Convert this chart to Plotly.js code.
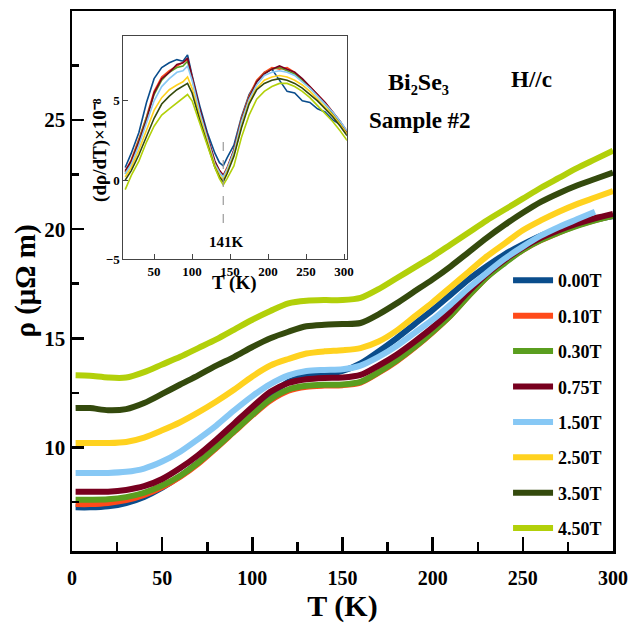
<!DOCTYPE html>
<html>
<head>
<meta charset="utf-8">
<script src="https://cdn.plot.ly/plotly-3.0.1.min.js"></script>
<style>html,body{margin:0;padding:0;background:#fff;}#chart{width:630px;height:626px;}</style>
</head>
<body>
<div id="chart"></div>
<script>
// ---------- main panel data: rho (micro-ohm m) vs T (K) ----------
const T_main = [2, 10, 20, 30, 40, 50, 60, 70, 80, 90, 100, 110, 120, 130, 140, 150, 160, 170, 180, 190, 200, 210, 220, 230, 240, 250, 260, 270, 280, 290, 300];
const fieldLabels = ['0.00T', '0.10T', '0.30T', '0.75T', '1.50T', '2.50T', '3.50T', '4.50T'];
const rho_000 = [7.25, 7.25, 7.30, 7.45, 7.73, 8.15, 8.68, 9.30, 10.00, 10.80, 11.60, 12.40, 13.00, 13.30, 13.35, 13.50, 13.85, 14.40, 15.00, 15.65, 16.30, 17.00, 17.70, 18.30, 18.85, 19.30, 19.70, 20.00, 20.25, 20.45, 20.60];
const rho_010 = [7.40, 7.40, 7.45, 7.58, 7.82, 8.18, 8.65, 9.25, 9.97, 10.72, 11.47, 12.15, 12.60, 12.78, 12.83, 12.85, 12.97, 13.42, 13.95, 14.58, 15.28, 16.05, 16.95, 17.80, 18.48, 19.05, 19.50, 19.85, 20.17, 20.42, 20.62];
const rho_030 = [7.60, 7.60, 7.62, 7.72, 7.92, 8.25, 8.70, 9.30, 10.00, 10.75, 11.50, 12.20, 12.65, 12.82, 12.87, 12.88, 13.00, 13.45, 13.98, 14.60, 15.30, 16.05, 16.95, 17.80, 18.45, 19.05, 19.50, 19.85, 20.15, 20.40, 20.62];
const rho_075 = [7.96, 7.96, 7.97, 8.05, 8.22, 8.55, 9.05, 9.65, 10.35, 11.10, 11.85, 12.55, 12.95, 13.12, 13.18, 13.20, 13.32, 13.75, 14.25, 14.85, 15.50, 16.25, 17.15, 17.95, 18.60, 19.15, 19.60, 19.95, 20.25, 20.50, 20.70];
const rho_150 = [8.83, 8.83, 8.83, 8.88, 9.03, 9.35, 9.80, 10.38, 11.00, 11.70, 12.35, 12.90, 13.30, 13.50, 13.55, 13.58, 13.75, 14.15, 14.65, 15.25, 15.85, 16.55, 17.30, 18.00, 18.65, 19.20, 19.70, 20.10, 20.45, 20.80, null];
const rho_250 = [10.20, 10.20, 10.20, 10.25, 10.45, 10.78, 11.15, 11.60, 12.10, 12.65, 13.25, 13.75, 14.05, 14.30, 14.40, 14.45, 14.55, 14.85, 15.35, 16.00, 16.65, 17.35, 18.05, 18.75, 19.35, 19.95, 20.40, 20.80, 21.15, 21.45, 21.75];
const rho_350 = [11.80, 11.80, 11.70, 11.75, 12.03, 12.45, 12.88, 13.30, 13.75, 14.15, 14.60, 15.00, 15.30, 15.55, 15.62, 15.65, 15.70, 16.10, 16.60, 17.15, 17.70, 18.30, 18.95, 19.60, 20.20, 20.75, 21.25, 21.65, 22.00, 22.30, 22.60];
const rho_450 = [13.30, 13.28, 13.20, 13.20, 13.45, 13.80, 14.15, 14.55, 14.95, 15.40, 15.85, 16.25, 16.60, 16.72, 16.75, 16.75, 16.85, 17.25, 17.75, 18.25, 18.75, 19.30, 19.85, 20.40, 20.90, 21.40, 21.90, 22.35, 22.80, 23.20, 23.60];

// ---------- inset data: d(rho)/dT x 1e-8 vs T (K) ----------
const T_inset = [12, 20, 30, 40, 50, 60, 70, 80, 88, 94, 100, 110, 120, 130, 136, 141, 146, 155, 165, 175, 185, 195, 205, 215, 225, 235, 245, 255, 265, 275, 285, 295, 304];
const d_000 = [0.8, 1.7, 3.0, 4.9, 6.4, 7.1, 7.4, 7.6, 7.5, 7.9, 6.6, 4.7, 3.0, 1.7, 1.1, 0.9, 1.4, 2.2, 4.0, 5.4, 6.2, 6.8, 7.0, 6.3, 5.6, 5.5, 5.0, 4.9, 4.5, 4.3, 3.8, 3.5, 3.0];
const d_010 = [0.5, 1.3, 2.6, 4.0, 5.6, 6.5, 6.9, 7.2, 7.4, 7.6, 6.5, 4.4, 2.7, 1.1, 0.6, 0.3, 0.8, 1.9, 3.9, 5.3, 6.3, 6.8, 7.1, 7.0, 7.1, 6.8, 6.3, 5.9, 5.4, 4.9, 4.3, 3.7, 3.1];
const d_030 = [0.4, 1.2, 2.5, 3.9, 5.4, 6.3, 6.8, 7.1, 7.2, 7.5, 6.4, 4.3, 2.6, 1.0, 0.5, 0.2, 0.7, 1.8, 3.8, 5.2, 6.2, 6.7, 7.0, 7.1, 6.9, 6.7, 6.3, 5.8, 5.3, 4.8, 4.2, 3.6, 3.0];
const d_075 = [0.6, 1.2, 2.4, 3.8, 5.5, 6.4, 6.8, 7.3, 7.4, 7.7, 6.5, 4.5, 2.8, 1.2, 0.6, 0.3, 0.7, 1.9, 3.8, 5.2, 6.2, 6.7, 7.0, 7.2, 7.0, 6.8, 6.4, 5.9, 5.4, 4.9, 4.3, 3.7, 3.0];
const d_150 = [0.4, 1.0, 2.2, 3.6, 5.0, 5.9, 6.4, 6.8, 6.9, 7.2, 6.3, 4.3, 2.6, 1.0, 0.5, 0.2, 0.7, 1.8, 3.7, 5.1, 6.0, 6.6, 6.8, 6.9, 6.8, 6.6, 6.2, 5.8, 5.3, 4.8, 4.3, 3.7, 3.1];
const d_250 = [0.2, 0.8, 1.9, 3.1, 4.4, 5.2, 5.7, 6.0, 6.2, 6.5, 5.8, 4.0, 2.4, 0.9, 0.3, 0.0, 0.5, 1.6, 3.4, 4.9, 5.8, 6.3, 6.5, 6.6, 6.5, 6.3, 6.0, 5.6, 5.1, 4.6, 4.1, 3.5, 2.9];
const d_350 = [0.0, 0.6, 1.6, 2.8, 3.9, 4.8, 5.3, 5.7, 5.9, 6.1, 5.5, 3.8, 2.3, 0.8, 0.2, -0.1, 0.4, 1.5, 3.3, 4.8, 5.7, 6.1, 6.3, 6.4, 6.3, 6.1, 5.8, 5.4, 5.0, 4.5, 4.0, 3.4, 2.8];
const d_450 = [-0.6, 0.3, 1.2, 2.4, 3.4, 4.1, 4.5, 4.9, 5.2, 5.4, 5.0, 3.6, 2.1, 0.8, 0.1, -0.3, 0.1, 0.9, 2.7, 4.1, 5.1, 5.6, 5.9, 6.1, 6.1, 5.9, 5.6, 5.2, 4.7, 4.2, 3.7, 3.1, 2.5];

// marker of the minimum in the inset
const minT = [141, 141];
const minY = [2.4, -2.8];

const mainSeries = [rho_000, rho_010, rho_030, rho_075, rho_150, rho_250, rho_350, rho_450];
const insetSeries = [d_000, d_010, d_030, d_075, d_150, d_250, d_350, d_450];
const colors = ['#0a4d8c', '#ff4a1a', '#5a9e1f', '#78001f', '#87c8f5', '#ffd21f', '#344a0d', '#b2d00a'];

const SERIF = 'Liberation Serif, Times New Roman, serif';
const traces = [];
insetSeries.forEach((ys, i) => {
  traces.push({x: T_inset, y: ys, xaxis: 'x2', yaxis: 'y2', mode: 'lines',
    line: {color: colors[i], width: 1.6}, showlegend: false});
});
traces.push({x: minT, y: minY, xaxis: 'x2', yaxis: 'y2', mode: 'lines',
  line: {color: '#999', width: 1.2, dash: 'dash'}, showlegend: false});
mainSeries.forEach((ys, i) => {
  traces.push({x: T_main, y: ys, mode: 'lines', name: fieldLabels[i], legendgroup: 'g' + i,
    line: {color: colors[i], width: 6, shape: 'spline', smoothing: 0.8}});
});

const layout = {
  width: 630, height: 626, margin: {l: 72, r: 17, t: 11, b: 75},
  paper_bgcolor: '#fff', plot_bgcolor: 'rgba(0,0,0,0)', font: {family: SERIF, color: '#000'},
  legend: {x: 0.806, y: 0.535, xanchor: 'left', yanchor: 'top', bgcolor: 'rgba(0,0,0,0)',
    font: {family: SERIF, size: 18, weight: 'bold'}, tracegroupgap: 9, itemwidth: 40},
  xaxis: {range: [0, 300], showgrid: false, zeroline: false, showline: true, linecolor: '#000', linewidth: 2.5, mirror: true,
    ticks: 'inside', ticklen: 14, tickwidth: 2.5, tickcolor: '#000', dtick: 50, tick0: 0, ticklabelstandoff: 7,
    minor: {ticks: 'inside', dtick: 25, ticklen: 9, tickwidth: 2.5, tickcolor: '#000'},
    tickfont: {family: SERIF, size: 20, weight: 'bold'},
    title: {text: 'T (K)', font: {family: SERIF, size: 30, weight: 'bold'}, standoff: 6}},
  yaxis: {range: [5.25, 30], showgrid: false, zeroline: false, showline: true, linecolor: '#000', linewidth: 2.5, mirror: true,
    ticks: 'inside', ticklen: 12, tickwidth: 2.5, tickcolor: '#000', dtick: 5, tick0: 0,
    minor: {ticks: 'inside', dtick: 2.5, ticklen: 7, tickwidth: 2.5, tickcolor: '#000'},
    tickfont: {family: SERIF, size: 21, weight: 'bold'},
    title: {text: 'ρ (μΩ m)', font: {family: SERIF, size: 29, weight: 'bold'}, standoff: 0}},
  xaxis2: {domain: [0.095, 0.508], anchor: 'y2', range: [9.6, 303.6], showgrid: false, zeroline: false,
    showline: true, mirror: true, linecolor: '#444', linewidth: 1,
    ticks: 'inside', ticklen: 5, tickwidth: 1, tickcolor: '#444', dtick: 50,
    tickfont: {family: SERIF, size: 13, weight: 'bold'}},
  yaxis2: {domain: [0.540, 0.954], anchor: 'x2', range: [-5, 9.1], showgrid: false, zeroline: false,
    showline: true, mirror: true, linecolor: '#444', linewidth: 1,
    ticks: 'inside', ticklen: 5, tickwidth: 1, tickcolor: '#444', dtick: 5,
    tickfont: {family: SERIF, size: 13, weight: 'bold'}},
  annotations: [
    {xref: 'x', yref: 'y', x: 192, y: 26.75, text: 'Bi₂Se₃', showarrow: false,
      font: {family: SERIF, size: 24, weight: 'bold'}},
    {xref: 'x', yref: 'y', x: 193, y: 25.0, text: 'Sample #2', showarrow: false,
      font: {family: SERIF, size: 23, weight: 'bold'}},
    {xref: 'x', yref: 'y', x: 255, y: 26.85, text: 'H//c', showarrow: false,
      font: {family: SERIF, size: 23, weight: 'bold'}},
    {xref: 'x2', yref: 'y2', x: 145, y: -3.9, text: '141K', showarrow: false,
      font: {family: SERIF, size: 15, weight: 'bold'}},
    {xref: 'x2', yref: 'paper', x: 156, y: 0.497, yanchor: 'middle', text: 'T (K)', showarrow: false,
      font: {family: SERIF, size: 19, weight: 'bold'}},
    {xref: 'paper', yref: 'paper', x: 0.052, y: 0.743, xanchor: 'center', yanchor: 'middle', textangle: -90,
      text: '(dρ/dT)×10⁻⁸', showarrow: false, font: {family: SERIF, size: 19, weight: 'bold'}}
  ]
};

Plotly.newPlot('chart', traces, layout, {displayModeBar: false, staticPlot: true});
</script>
</body>
</html>
